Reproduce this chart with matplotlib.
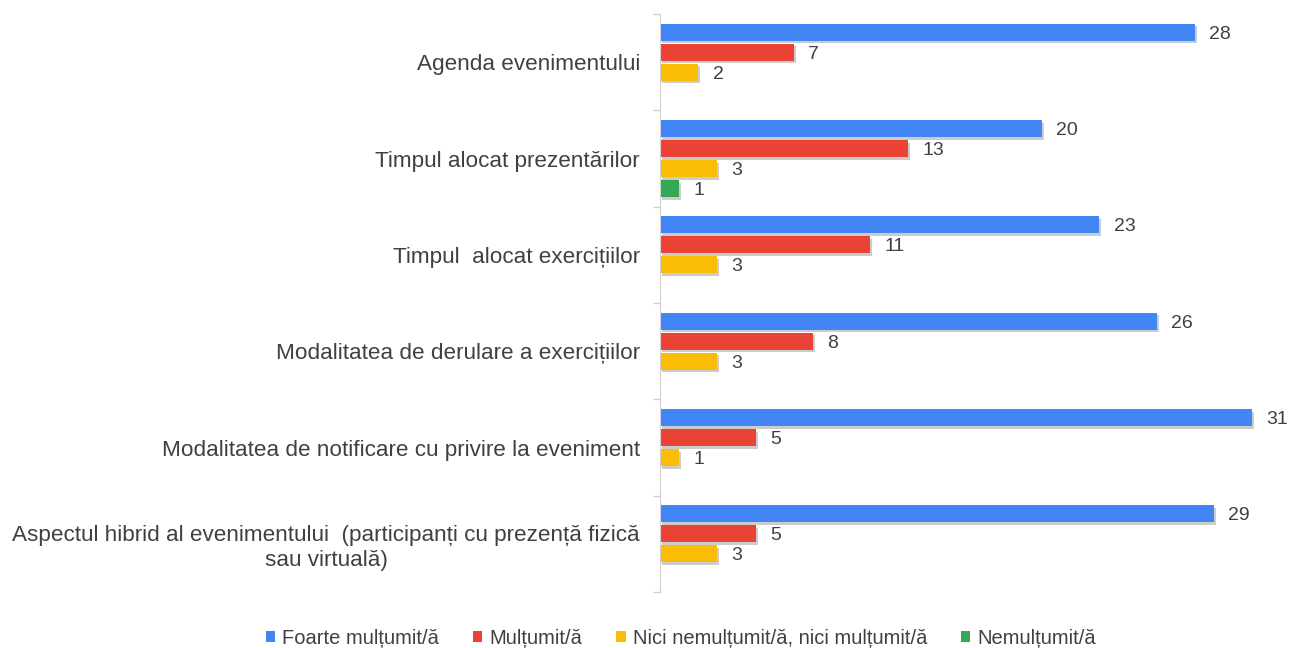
import matplotlib
matplotlib.use("Agg")
import matplotlib.pyplot as plt
import matplotlib.patheffects as pe
from matplotlib.patches import Patch
import numpy as np

categories = [
    "Agenda evenimentului",
    "Timpul alocat prezentărilor",
    "Timpul  alocat exercițiilor",
    "Modalitatea de derulare a exercițiilor",
    "Modalitatea de notificare cu privire la eveniment",
    "Aspectul hibrid al evenimentului  (participanți cu prezență fizică\nsau virtuală)",
]
series_names = ["Foarte mulțumit/ă", "Mulțumit/ă", "Nici nemulțumit/ă, nici mulțumit/ă", "Nemulțumit/ă"]
foarte = [28, 20, 23, 26, 31, 29]
multumit = [7, 13, 11, 8, 5, 5]
nici = [2, 3, 3, 3, 1, 3]
nemultumit = [0, 1, 0, 0, 0, 0]
series_values = [foarte, multumit, nici, nemultumit]
colors = ["#4285F4", "#EA4335", "#FBBC04", "#34A853"]

plt.rcParams['font.family'] = ['Liberation Sans', 'DejaVu Sans']
text_color = "#404040"

fig = plt.figure(figsize=(12.9, 6.48), dpi=100)
ax = fig.add_axes([660/1290, 1-592/648, 618/1290, (592-14)/648])

n = len(categories)
y = np.arange(n)
slot = 0.2077
bh = 0.177
shadow = [pe.SimplePatchShadow(offset=(1.5, -2), shadow_rgbFace="#000000", alpha=0.2), pe.Normal()]
for i, (name, vals, c) in enumerate(zip(series_names, series_values, colors)):
    pos = y + (i - 1.5) * slot
    for p, v in zip(pos, vals):
        if v > 0:
            ax.barh(p, v, height=bh, color=c, path_effects=shadow)
            ax.text(v + 0.75, p, str(v), va="center_baseline", ha="left", fontsize=14, color=text_color)

ax.set_xlim(0, 618/19.1)
ax.set_ylim(n - 0.5, -0.5)
ax.set_yticks(y)
ax.set_yticklabels(categories, fontsize=16.2, color=text_color, ha="right", multialignment="center")
ax.set_yticks(np.arange(n + 1) - 0.5, minor=True)
ax.tick_params(axis="y", which="major", length=0, pad=14.4)
ax.tick_params(axis="y", which="minor", length=5, color="#d0d0d0", width=1)
ax.set_xticks([])
for s in ["top", "right", "bottom"]:
    ax.spines[s].set_visible(False)
ax.spines["left"].set_color("#d0d0d0")

handles = [Patch(facecolor=c, edgecolor="none", label=nm) for nm, c in zip(series_names, colors)]
fig.legend(handles=handles, loc="lower center", bbox_to_anchor=(681/1290, -0.028), ncol=4, frameon=False,
           fontsize=14.5, handlelength=0.45, handleheight=0.45, handletextpad=0.35,
           columnspacing=1.7, labelcolor=text_color)
fig.savefig("out.png", dpi=100)
